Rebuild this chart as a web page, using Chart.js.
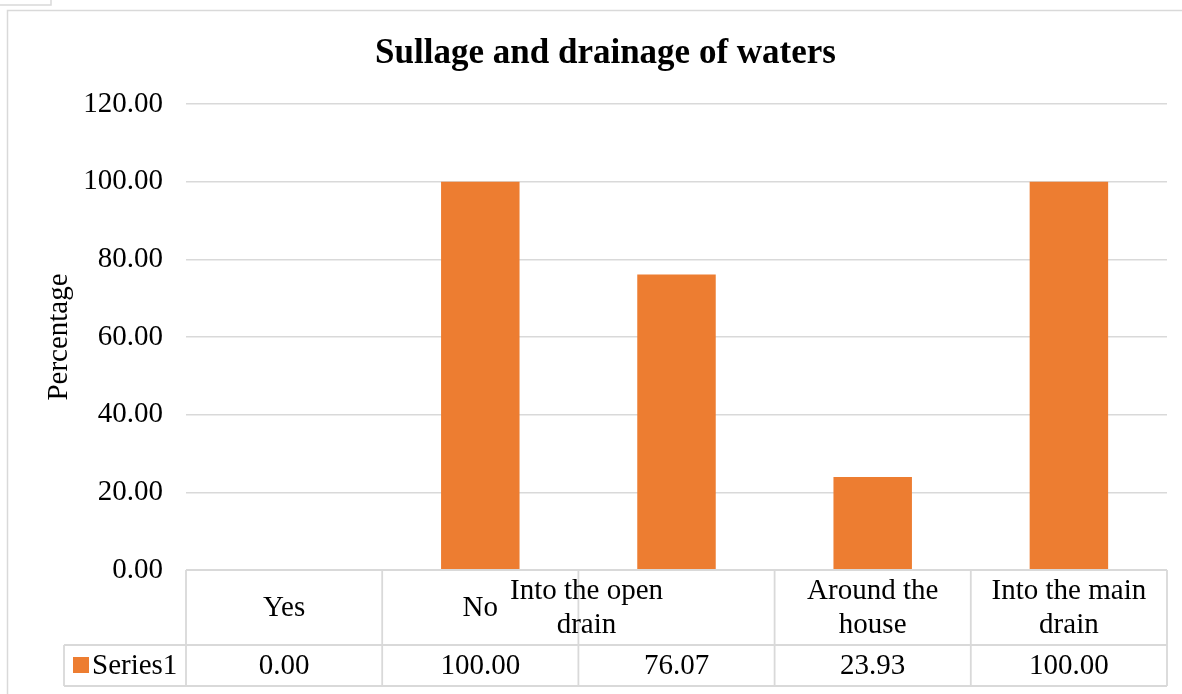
<!DOCTYPE html>
<html>
<head>
<meta charset="utf-8">
<script src="https://cdn.jsdelivr.net/npm/chart.js@4"></script>
<style>
  html, body { margin: 0; padding: 0; background: #fff; }
  #wrap { position: relative; width: 1182px; height: 694px; }
  canvas { display: block; }
</style>
</head>
<body>
<div id="wrap"><canvas id="c" width="1182" height="694"></canvas></div>
<script>
// ---- data ----
const categories = [["Yes"], ["No"], ["Into the open", "drain"], ["Around the", "house"], ["Into the main", "drain"]];
const seriesName = "Series1";
const values = [0.00, 100.00, 76.07, 23.93, 100.00];
const valueLabels = ["0.00", "100.00", "76.07", "23.93", "100.00"];
const yMin = 0, yMax = 120, yStep = 20;
const chartTitle = "Sullage and drainage of waters";
const yTitle = "Percentage";

const FONT = "'Liberation Serif', 'Times New Roman', serif";
const BAR = "#ED7D31";
const LINE = "#d9d9d9";

// Excel-like data table under the plot + outer frame
const tablePlugin = {
  id: 'dataTable',
  beforeDraw(chart) {
    const ctx = chart.ctx;
    ctx.save();
    ctx.strokeStyle = LINE;
    ctx.lineWidth = 1.5;
    // small artifact box top-left
    ctx.beginPath();
    ctx.moveTo(0, 5); ctx.lineTo(51, 5); ctx.lineTo(51, 0);
    ctx.stroke();
    // outer chart frame
    ctx.beginPath();
    ctx.moveTo(7.5, 694); ctx.lineTo(7.5, 10.5); ctx.lineTo(1182, 10.5);
    ctx.stroke();
    ctx.restore();
  },
  afterDraw(chart) {
    const ctx = chart.ctx;
    const x = chart.scales.x;
    const area = chart.chartArea;
    const n = categories.length;
    const band = (area.right - area.left) / n;
    const top = area.bottom;
    const rowY = top + 75;
    const bottom = top + 116;
    const legendLeft = 64;
    const headerShift = [0, 0, -90, 0, 0];
    ctx.save();
    ctx.strokeStyle = LINE;
    ctx.lineWidth = 1.8;
    ctx.beginPath();
    ctx.moveTo(area.left, top); ctx.lineTo(area.right, top);
    ctx.moveTo(legendLeft, rowY); ctx.lineTo(area.right, rowY);
    ctx.moveTo(legendLeft, bottom); ctx.lineTo(area.right, bottom);
    ctx.moveTo(legendLeft, rowY); ctx.lineTo(legendLeft, bottom);
    for (let i = 0; i <= n; i++) {
      const xx = area.left + i * band;
      ctx.moveTo(xx, top); ctx.lineTo(xx, bottom);
    }
    ctx.stroke();

    ctx.fillStyle = '#000';
    ctx.font = "29px " + FONT;
    ctx.textAlign = 'center';
    ctx.textBaseline = 'middle';
    const lh = 34;
    for (let i = 0; i < n; i++) {
      const cx = x.getPixelForValue(i);
      const lines = categories[i];
      const midY = (top + rowY) / 2 + 1;
      const start = midY - (lines.length - 1) * lh / 2;
      lines.forEach((t, k) => ctx.fillText(t, cx + headerShift[i], start + k * lh));
      ctx.fillText(valueLabels[i], cx, (rowY + bottom) / 2 + 1);
    }
    // legend key
    ctx.fillStyle = BAR;
    ctx.fillRect(73, 657, 16, 16);
    ctx.fillStyle = '#000';
    ctx.textAlign = 'left';
    ctx.fillText(seriesName, 92, (rowY + bottom) / 2 + 1);
    ctx.restore();
  }
};

new Chart(document.getElementById('c'), {
  type: 'bar',
  data: {
    labels: categories,
    datasets: [{
      label: seriesName,
      data: values,
      backgroundColor: BAR,
      borderWidth: 0,
      barPercentage: 0.4,
      categoryPercentage: 1.0
    }]
  },
  options: {
    responsive: false,
    animation: false,
    events: [],
    layout: { padding: { top: 13, left: 44, right: 15, bottom: 124 } },
    plugins: {
      legend: { display: false },
      tooltip: { enabled: false },
      title: {
        display: true,
        text: chartTitle,
        color: '#000',
        font: { family: FONT, size: 35, weight: 'bold' },
        padding: { top: 20, bottom: 29 }
      }
    },
    scales: {
      x: { display: false },
      y: {
        min: yMin, max: yMax,
        border: { display: false },
        grid: { color: LINE, lineWidth: 1.5, drawTicks: false },
        ticks: {
          stepSize: yStep,
          color: '#000',
          padding: 23,
          font: { family: FONT, size: 29 },
          callback: v => Number(v).toFixed(2)
        },
        title: {
          display: true,
          text: yTitle,
          color: '#000',
          font: { family: FONT, size: 29 },
          padding: { top: -2, bottom: 0 }
        },
        afterFit(s) {
          s.width = 142;
          s.paddingTop = 0;
          s.paddingBottom = 0;
        }
      }
    }
  },
  plugins: [tablePlugin]
});
</script>
</body>
</html>
